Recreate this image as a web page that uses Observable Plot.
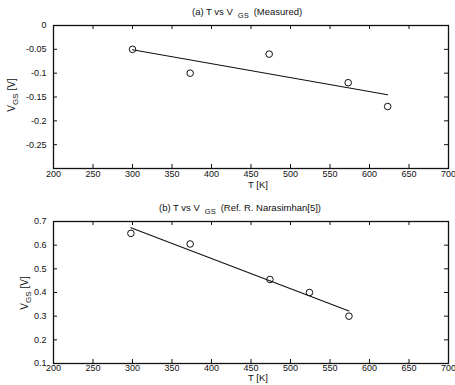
<!DOCTYPE html>
<html>
<head>
<meta charset="utf-8">
<script src="https://cdn.jsdelivr.net/npm/d3@7"></script>
<script src="https://cdn.jsdelivr.net/npm/@observablehq/plot@0.6"></script>
<style>
  html, body { margin: 0; padding: 0; background: #fff; }
  #wrap { position: relative; width: 455px; height: 385px; overflow: hidden; background: #fff;
          font-family: "Liberation Sans", Arial, Helvetica, sans-serif; color: #111; }
  #wrap svg { position: absolute; left: 0; }
  .title { position: absolute; font-size: 9.5px; white-space: pre; line-height: 1; }
  .title .sub { font-size: 7.5px; position: relative; top: 3px; padding: 0 5px 0 5px; }
  .ylab { position: absolute; font-size: 10px; white-space: pre; line-height: 1;
          transform: translate(-50%, -50%) rotate(-90deg); }
  .ylab .sub { font-size: 8px; position: relative; top: 3px; padding-right: 3px; }
</style>
</head>
<body>
<div id="wrap"></div>
<script>
// ---- data ----
const xTicks = [200, 250, 300, 350, 400, 450, 500, 550, 600, 650, 700];

// (a) measured
const tempA = [300, 373, 473, 573, 623];
const vgsA = [-0.05, -0.10, -0.06, -0.12, -0.17];
const yTicksA = [0, -0.05, -0.1, -0.15, -0.2, -0.25];
const yLabelsA = ["0", "-0.05", "-0.1", "-0.15", "-0.2", "-0.25"];

// (b) Ref. R. Narasimhan [5]
const tempB = [298, 373, 474, 524, 574];
const vgsB = [0.65, 0.605, 0.455, 0.40, 0.30];
const yTicksB = [0.1, 0.2, 0.3, 0.4, 0.5, 0.6, 0.7];
const yLabelsB = ["0.1", "0.2", "0.3", "0.4", "0.5", "0.6", "0.7"];

const titleA = ["(a) T vs V", "GS", "(Measured)"];
const titleB = ["(b) T vs V", "GS", "(Ref. R. Narasimhan[5])"];
const xLabel = "T [K]";

// ---- build ----
const dataA = tempA.map((t, i) => ({t, v: vgsA[i]}));
const dataB = tempB.map((t, i) => ({t, v: vgsB[i]}));

const W = 455, mL = 53, mR = 7;
const plotW = W - mL - mR;

function panel({data, yDomain, yTicks, yLabels, height, mT, mB, xLabDy, xPad}) {
  const plotH = height - mT - mB;
  return Plot.plot({
    width: W, height,
    marginLeft: mL, marginRight: mR, marginTop: mT, marginBottom: mB,
    x: {domain: [200, 700]},
    y: {domain: yDomain},
    style: {fontFamily: '"Liberation Sans", Arial, Helvetica, sans-serif', fontSize: "9px", color: "#111", background: "transparent"},
    marks: [
      Plot.axisX({ticks: xTicks, tickSize: 0, tickPadding: xPad, label: null}),
      Plot.axisY({ticks: yTicks, tickSize: 0, tickPadding: 7, label: null,
                  tickFormat: d => yLabels[yTicks.indexOf(d)]}),
      // inward ticks on all four sides
      Plot.tickY(yTicks, {y: d => d, insetRight: plotW - 4, stroke: "#111"}),
      Plot.tickY(yTicks, {y: d => d, insetLeft: plotW - 4, stroke: "#111"}),
      Plot.tickX(xTicks, {x: d => d, insetTop: plotH - 4, stroke: "#111"}),
      Plot.tickX(xTicks, {x: d => d, insetBottom: plotH - 4, stroke: "#111"}),
      Plot.frame({stroke: "#111", strokeWidth: 1.3}),
      Plot.linearRegressionY(data, {x: "t", y: "v", ci: 0, stroke: "#111", strokeWidth: 1.1}),
      Plot.dot(data, {x: "t", y: "v", r: 3.3, stroke: "#111", strokeWidth: 1, fill: "none"}),
      Plot.text([xLabel], {frameAnchor: "bottom", dx: 7, dy: xLabDy, fontSize: 9.5, fill: "#111"})
    ]
  });
}

const wrap = document.getElementById("wrap");

const svgA = panel({data: dataA, yDomain: [-0.3, 0], yTicks: yTicksA, yLabels: yLabelsA,
                    height: 194, mT: 25, mB: 26, xLabDy: 19, xPad: 2});
svgA.style.top = "0px";
wrap.appendChild(svgA);

const svgB = panel({data: dataB, yDomain: [0.1, 0.7], yTicks: yTicksB, yLabels: yLabelsB,
                    height: 195, mT: 31, mB: 22, xLabDy: 17.5, xPad: 1.5});
svgB.style.top = "190px";
wrap.appendChild(svgB);

function addTitle(parts, left, top) {
  const d = document.createElement("div");
  d.className = "title";
  d.style.left = left + "px";
  d.style.top = top + "px";
  d.innerHTML = parts[0] + '<span class="sub">' + parts[1] + '</span>' + parts[2];
  wrap.appendChild(d);
}
addTitle(titleA, 192, 7);
addTitle(titleB, 159, 203);

function addYLab(cx, cy) {
  const d = document.createElement("div");
  d.className = "ylab";
  d.style.left = cx + "px";
  d.style.top = cy + "px";
  d.innerHTML = 'V<span class="sub">GS</span>[V]';
  wrap.appendChild(d);
}
addYLab(12, 95);
addYLab(25, 293);
</script>
</body>
</html>
